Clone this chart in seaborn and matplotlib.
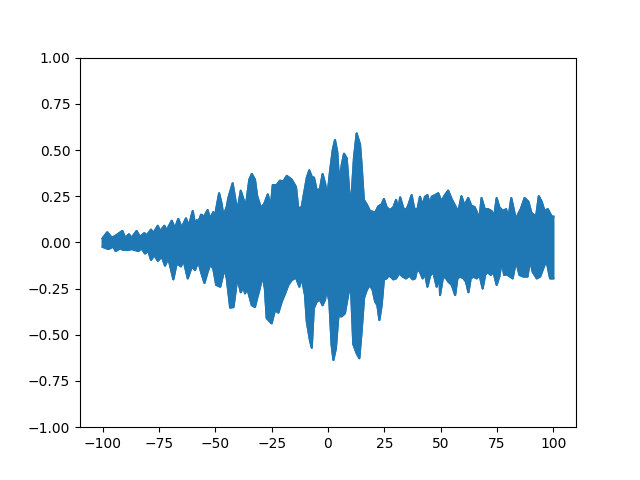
import matplotlib
matplotlib.use("Agg")
import matplotlib.pyplot as plt
import seaborn as sns
import pandas as pd

# Upper envelope of the signal (x, value)
upper_x = [-100, -97.9, -95.9, -94.5, -91.2, -90.0, -88.3, -87.1, -84.9, -83.4, -81.5, -80.4,
           -78.5, -77.5, -75.5, -74.5, -72.6, -71.6, -69.3, -67.9, -66.4, -64.9, -63.0, -61.7,
           -60.0, -59.0, -58.2, -57.5, -56.3, -54.9, -53.4, -52.3, -50.9, -50.1, -48.3, -47.2,
           -46.4, -44.9, -44.2, -42.3, -40.8, -40.2, -38.7, -37.5, -36.4, -34.9, -33.8, -32.4,
           -31.4, -29.7, -28.2, -26.7, -25.4, -24.5, -22.8, -21.3, -19.8, -18.3, -16.1, -14.2,
           -13.2, -11.7, -9.4, -8.3, -7.2, -6.2, -5.0, -3.55, -2.4, -1.3, -0.3, 0.9, 2.1, 3.1,
           4.1, 5.0, 6.1, 7.1, 8.3, 9.5, 10.5, 11.5, 12.7, 14.2, 14.9, 15.9, 17.2, 18.6, 19.8,
           20.9, 22.3, 23.8, 24.8, 26.0, 27.5, 29.0, 30.2, 31.2, 32.0, 33.4, 34.6, 35.6, 37.1,
           38.2, 39.6, 40.8, 42.0, 43.0, 44.1, 45.3, 46.0, 47.5, 48.9, 50.4, 51.5, 53.3, 55.0,
           57.8, 59.2, 60.5, 62.2, 63.5, 65.1, 67.2, 68.1, 69.5, 71.0, 72.5, 73.7, 74.8, 76.0,
           77.6, 79.0, 80.0, 81.3, 83.4, 84.2, 85.5, 87.2, 88.9, 90.2, 92.3, 93.5, 94.8, 96.0,
           97.5, 99.2, 100.0]
upper_y = [0.022, 0.055, 0.025, 0.034, 0.062, 0.025, 0.044, 0.025, 0.062, 0.030, 0.050, 0.038,
           0.069, 0.050, 0.090, 0.060, 0.090, 0.065, 0.117, 0.076, 0.127, 0.080, 0.130, 0.090,
           0.170, 0.100, 0.120, 0.110, 0.150, 0.140, 0.175, 0.130, 0.163, 0.146, 0.266, 0.210,
           0.143, 0.193, 0.240, 0.320, 0.210, 0.170, 0.280, 0.233, 0.200, 0.340, 0.370, 0.340,
           0.250, 0.185, 0.211, 0.260, 0.190, 0.310, 0.310, 0.334, 0.330, 0.360, 0.340, 0.300,
           0.185, 0.190, 0.350, 0.390, 0.355, 0.350, 0.280, 0.290, 0.370, 0.320, 0.247, 0.385,
           0.500, 0.554, 0.490, 0.320, 0.420, 0.480, 0.455, 0.265, 0.257, 0.455, 0.590, 0.530,
           0.420, 0.230, 0.205, 0.170, 0.166, 0.160, 0.195, 0.206, 0.235, 0.190, 0.175, 0.190,
           0.230, 0.175, 0.244, 0.185, 0.175, 0.200, 0.256, 0.185, 0.175, 0.247, 0.200, 0.247,
           0.256, 0.200, 0.247, 0.256, 0.266, 0.220, 0.250, 0.280, 0.230, 0.166, 0.250, 0.200,
           0.240, 0.200, 0.190, 0.130, 0.240, 0.180, 0.180, 0.170, 0.140, 0.240, 0.190, 0.170,
           0.180, 0.130, 0.240, 0.120, 0.150, 0.180, 0.240, 0.220, 0.160, 0.140, 0.250, 0.220,
           0.170, 0.180, 0.140, 0.140]

# Lower envelope of the signal (x, value)
lower_x = [-100, -97.4, -95.2, -94.2, -92.2, -90.8, -88.6, -87.1, -84.1, -82.7, -81.2, -79.7,
           -78.5, -77.0, -75.5, -73.7, -72.3, -70.8, -68.6, -67.1, -65.2, -64.1, -62.2, -60.4,
           -59.0, -57.5, -56.3, -54.8, -53.4, -52.3, -50.9, -49.6, -47.8, -46.7, -45.9, -44.9,
           -43.4, -41.9, -41.2, -40.2, -38.7, -37.5, -36.8, -35.8, -34.6, -33.8, -32.4, -31.4,
           -30.5, -29.0, -28.0, -27.2, -25.0, -23.5, -22.0, -20.5, -19.0, -17.6, -16.1, -14.2,
           -12.7, -11.7, -10.2, -9.4, -8.0, -7.2, -6.3, -5.0, -3.55, -2.4, -1.3, -0.6, 0.6, 1.6,
           2.4, 3.5, 4.6, 6.1, 7.5, 9.0, 10.1, 11.2, 12.7, 13.9, 14.9, 16.0, 17.2, 18.6, 19.8,
           20.9, 21.9, 22.8, 23.8, 24.8, 26.0, 26.8, 27.8, 29.0, 30.2, 31.6, 33.1, 34.6, 36.1,
           37.6, 38.6, 39.6, 40.8, 42.0, 43.0, 44.1, 45.3, 46.7, 48.2, 49.4, 49.7, 50.9, 51.9,
           53.4, 54.9, 56.4, 57.4, 58.6, 60.1, 61.2, 62.3, 63.3, 64.5, 66.0, 67.2, 68.6, 69.7,
           70.7, 72.2, 73.4, 74.8, 76.0, 77.1, 78.1, 79.3, 80.8, 81.9, 83.4, 84.9, 86.7, 88.5,
           89.6, 90.8, 92.6, 94.1, 95.8, 96.7, 97.3, 98.5, 100.0]
lower_y = [-0.024, -0.036, -0.023, -0.047, -0.032, -0.041, -0.041, -0.036, -0.047, -0.032,
           -0.060, -0.047, -0.095, -0.068, -0.100, -0.077, -0.126, -0.086, -0.200, -0.113,
           -0.130, -0.095, -0.195, -0.130, -0.150, -0.104, -0.160, -0.220, -0.160, -0.122,
           -0.140, -0.230, -0.240, -0.185, -0.140, -0.195, -0.353, -0.350, -0.285, -0.190,
           -0.270, -0.240, -0.276, -0.250, -0.303, -0.340, -0.350, -0.300, -0.260, -0.180,
           -0.250, -0.410, -0.438, -0.366, -0.380, -0.320, -0.276, -0.230, -0.204, -0.190,
           -0.240, -0.190, -0.285, -0.430, -0.530, -0.570, -0.357, -0.320, -0.310, -0.340,
           -0.310, -0.250, -0.320, -0.555, -0.636, -0.573, -0.400, -0.400, -0.384, -0.280,
           -0.220, -0.550, -0.600, -0.627, -0.483, -0.300, -0.257, -0.230, -0.257, -0.320,
           -0.340, -0.420, -0.340, -0.200, -0.195, -0.180, -0.185, -0.200, -0.195, -0.167,
           -0.185, -0.195, -0.180, -0.200, -0.195, -0.144, -0.160, -0.195, -0.167, -0.240,
           -0.180, -0.160, -0.240, -0.180, -0.285, -0.195, -0.185, -0.213, -0.230, -0.285,
           -0.195, -0.185, -0.195, -0.213, -0.270, -0.195, -0.185, -0.195, -0.176, -0.250,
           -0.176, -0.160, -0.176, -0.160, -0.230, -0.185, -0.100, -0.176, -0.173, -0.185,
           -0.195, -0.100, -0.176, -0.185, -0.185, -0.095, -0.160, -0.195, -0.185, -0.130,
           -0.104, -0.122, -0.195, -0.195]

up = pd.DataFrame({"x": upper_x, "y": upper_y})
lo = pd.DataFrame({"x": lower_x, "y": lower_y})

fig, ax = plt.subplots(figsize=(6.4, 4.8), dpi=100)
color = "#1f77b4"
poly_x = list(up["x"]) + list(lo["x"])[::-1]
poly_y = list(up["y"]) + list(lo["y"])[::-1]
ax.fill(poly_x, poly_y, color=color, linewidth=1.5, edgecolor=color, joinstyle="round")
sns.lineplot(data=up, x="x", y="y", ax=ax, color=color, linewidth=1.5, sort=False)
sns.lineplot(data=lo, x="x", y="y", ax=ax, color=color, linewidth=1.5, sort=False)

ax.set_xlim(-110, 110)
ax.set_ylim(-1, 1)
ax.set_yticks([-1.0, -0.75, -0.5, -0.25, 0.0, 0.25, 0.5, 0.75, 1.0])
ax.set_xticks([-100, -75, -50, -25, 0, 25, 50, 75, 100])
ax.set_xlabel("")
ax.set_ylabel("")
fig.savefig("out.png", dpi=100)
